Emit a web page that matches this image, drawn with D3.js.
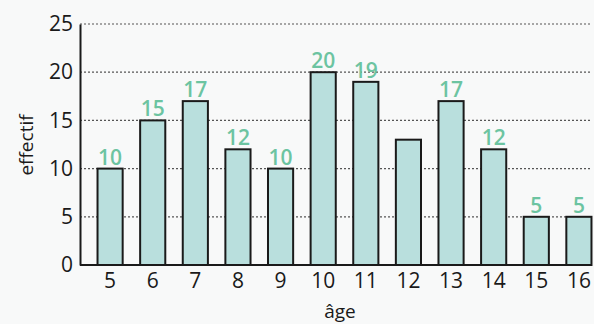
<!DOCTYPE html>
<html>
<head>
<meta charset="utf-8">
<script src="https://cdn.jsdelivr.net/npm/d3@7"></script>
<style>
  html, body { margin: 0; padding: 0; background: #f8f9f9; }
  svg { display: block; }
</style>
</head>
<body>
<svg id="chart" width="594" height="324"></svg>
<script>
// Effectifs par âge
const ages = [5, 6, 7, 8, 9, 10, 11, 12, 13, 14, 15, 16];
const effectifs = [10, 15, 17, 12, 10, 20, 19, 13, 17, 12, 5, 5];
const showLabel = [true, true, true, true, true, true, true, false, true, true, true, true];
const yTicks = [0, 5, 10, 15, 20, 25];

const svg = d3.select("#chart");
const font = "'Open Sans', 'Noto Sans', sans-serif";

const margin = { left: 80, right: 3, top: 24, bottom: 59 };

const x = d3.scaleBand()
  .domain(ages)
  .range([89, 600])
  .paddingInner(0.41)
  .paddingOuter(0.2);

const y = d3.scaleLinear()
  .domain([0, 25])
  .range([265, 24]);

// dotted grid lines
svg.append("g")
  .selectAll("line")
  .data(yTicks.filter(d => d > 0))
  .join("line")
  .attr("x1", margin.left)
  .attr("x2", 591)
  .attr("y1", d => y(d))
  .attr("y2", d => y(d))
  .attr("stroke", "#555")
  .attr("stroke-width", 1.2)
  .attr("stroke-dasharray", "2,2");

// bars
svg.append("g")
  .selectAll("rect")
  .data(ages)
  .join("rect")
  .attr("x", d => x(d))
  .attr("width", x.bandwidth())
  .attr("y", (d, i) => y(effectifs[i]))
  .attr("height", (d, i) => y(0) - y(effectifs[i]))
  .attr("fill", "#b9dfdd")
  .attr("stroke", "#1a1a1a")
  .attr("stroke-width", 2);

// value labels
svg.append("g")
  .selectAll("text")
  .data(ages.filter((d, i) => showLabel[i]))
  .join("text")
  .attr("x", d => x(d) + x.bandwidth() / 2)
  .attr("y", d => y(effectifs[ages.indexOf(d)]) - 4)
  .attr("text-anchor", "middle")
  .attr("font-family", font)
  .attr("font-size", 21)
  .attr("font-weight", 600)
  .attr("fill", "#6cc4a1")
  .text(d => effectifs[ages.indexOf(d)]);

// y axis
const yAxis = svg.append("g")
  .attr("transform", `translate(${margin.left},0)`)
  .call(d3.axisLeft(y).tickValues(yTicks).tickSize(0).tickPadding(7));
yAxis.select(".domain").attr("stroke", "#1a1a1a").attr("stroke-width", 2);
yAxis.selectAll("text")
  .attr("font-family", font)
  .attr("font-size", 21)
  .attr("fill", "#1a1a1a");

// x axis
const xAxis = svg.append("g")
  .attr("transform", `translate(0,${y(0)})`)
  .call(d3.axisBottom(x).tickSize(0).tickPadding(8));
xAxis.select(".domain")
  .attr("d", `M${margin.left},0H591`)
  .attr("stroke", "#1a1a1a")
  .attr("stroke-width", 2);
xAxis.selectAll("text")
  .attr("font-family", font)
  .attr("font-size", 21)
  .attr("fill", "#1a1a1a");

// axis titles
svg.append("text")
  .attr("transform", "translate(33,145) rotate(-90)")
  .attr("text-anchor", "middle")
  .attr("font-family", font)
  .attr("font-size", 19)
  .attr("fill", "#1a1a1a")
  .text("effectif");

svg.append("text")
  .attr("x", 340)
  .attr("y", 318)
  .attr("text-anchor", "middle")
  .attr("font-family", font)
  .attr("font-size", 19)
  .attr("fill", "#1a1a1a")
  .text("âge");
</script>
</body>
</html>
